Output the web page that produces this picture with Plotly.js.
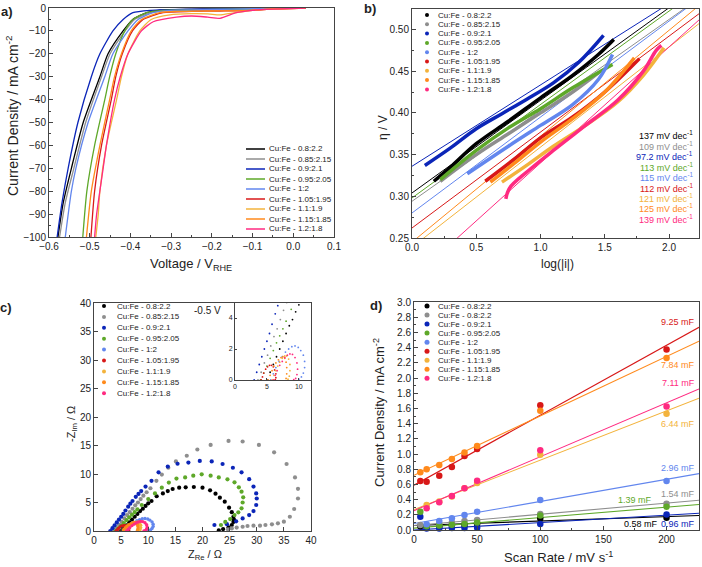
<!DOCTYPE html>
<html><head><meta charset="utf-8">
<script src="https://cdn.plot.ly/plotly-3.0.1.min.js"></script>
<style>body{margin:0;background:#fff}#plot{width:702px;height:567px}</style>
</head><body><div id="plot"></div><script>
// ---------- shared series info ----------
const names = ["Cu:Fe - 0.8:2.2","Cu:Fe - 0.85:2.15","Cu:Fe - 0.9:2.1","Cu:Fe - 0.95:2.05","Cu:Fe - 1:2","Cu:Fe - 1.05:1.95","Cu:Fe - 1.1:1.9","Cu:Fe - 1.15:1.85","Cu:Fe - 1.2:1.8"];
const namesD = ["Cu:Fe - 0.8:2.2","Cu:Fe - 0.8:2.2","Cu:Fe - 0.9:2.1","Cu:Fe - 0.95:2.05","Cu:Fe - 1:2","Cu:Fe - 1.05:1.95","Cu:Fe - 1.1:1.9","Cu:Fe - 1.15:1.85","Cu:Fe - 1.2:1.8"];
const colors = ["#000000","#8e8e8e","#0b25b8","#5ea829","#6286ee","#d81818","#f3b33c","#ff8a1c","#ff2a80"];

// ---------- panel a: LSV ----------
const lsvV = [
 [-0.578,-0.565,-0.545,-0.516,-0.475,-0.455,-0.418,-0.394,-0.36,-0.33,-0.25,-0.15,-0.05,0.03],
 [-0.574,-0.56,-0.539,-0.51,-0.471,-0.45,-0.413,-0.39,-0.35,-0.31,-0.25,-0.15,-0.05,0.03],
 [-0.58,-0.568,-0.553,-0.529,-0.496,-0.475,-0.443,-0.418,-0.394,-0.35,-0.25,-0.15,-0.05,0.03],
 [-0.517,-0.507,-0.488,-0.463,-0.451,-0.436,-0.414,-0.394,-0.36,-0.32,-0.25,-0.15,-0.05,0.03],
 [-0.56,-0.545,-0.534,-0.504,-0.463,-0.443,-0.406,-0.381,-0.344,-0.30,-0.25,-0.15,-0.05,0.03],
 [-0.497,-0.488,-0.471,-0.447,-0.436,-0.42,-0.395,-0.369,-0.32,-0.25,-0.18,-0.1,-0.05,0.03],
 [-0.485,-0.479,-0.475,-0.459,-0.434,-0.422,-0.406,-0.377,-0.349,-0.303,-0.25,-0.21,-0.18,-0.15,-0.1,-0.05,0.03],
 [-0.508,-0.496,-0.475,-0.451,-0.439,-0.422,-0.398,-0.373,-0.328,-0.287,-0.2,-0.1,-0.05,0.03],
 [-0.488,-0.483,-0.467,-0.459,-0.439,-0.425,-0.406,-0.373,-0.344,-0.287,-0.25,-0.21,-0.18,-0.14,-0.1,-0.05,0.03]
];
const lsvJ = [
 [-100,-85,-70,-50,-30,-20,-10,-5,-2,-1,-0.6,-0.3,-0.1,0],
 [-100,-85,-70,-50,-30,-20,-10,-5,-2,-1,-0.7,-0.4,-0.1,0],
 [-100,-85,-70,-50,-30,-20,-10,-5,-2,-1,-0.5,-0.3,-0.1,0],
 [-100,-80,-60,-40,-30,-20,-10,-5,-2,-1,-0.8,-0.5,-0.15,0],
 [-100,-80,-70,-50,-30,-20,-10,-5,-2,-1,-0.8,-0.5,-0.15,0],
 [-100,-80,-60,-40,-30,-20,-10,-5,-2,-1.5,-1.3,-1,-0.4,0],
 [-100,-90,-80,-60,-40,-30,-20,-10,-5,-3,-2.5,-2.6,-3,-2.2,-1,-0.4,0],
 [-100,-80,-60,-40,-30,-20,-10,-5,-2,-1.5,-1.3,-1,-0.4,0],
 [-100,-90,-70,-60,-40,-30,-20,-10,-6,-4,-3.5,-4,-4.5,-2,-1,-0.5,0]
];

// ---------- panel b: Tafel ----------
const tafelX = [
 [0.17,0.3,0.5,0.75,1.0,1.25,1.45,1.57],
 [0.22,0.5,0.75,1.0,1.25,1.45],
 [0.10,0.3,0.5,0.7,0.9,1.1,1.3,1.49],
 [0.22,0.5,0.75,1.0,1.25,1.56],
 [0.43,0.75,1.0,1.25,1.45,1.56],
 [0.57,0.8,1.0,1.25,1.5,1.77],
 [0.70,0.9,1.1,1.35,1.6,1.8,1.96],
 [0.61,0.8,1.0,1.25,1.5,1.73],
 [0.73,0.76,0.9,1.1,1.35,1.6,1.8,1.9,1.94]
];
const tafelEta = [
 [0.318,0.335,0.363,0.39,0.418,0.445,0.47,0.488],
 [0.318,0.35,0.375,0.40,0.425,0.448],
 [0.337,0.358,0.381,0.399,0.417,0.436,0.461,0.493],
 [0.32,0.355,0.382,0.405,0.43,0.458],
 [0.327,0.36,0.385,0.41,0.44,0.47],
 [0.318,0.345,0.37,0.395,0.425,0.465],
 [0.317,0.338,0.36,0.385,0.413,0.445,0.478],
 [0.317,0.34,0.365,0.393,0.425,0.466],
 [0.297,0.31,0.33,0.355,0.385,0.415,0.45,0.475,0.481]
];
const tafelFitIntercept = [0.304,0.294,0.336,0.298,0.28,0.262,0.239,0.245,0.201];
const tafelFitSlope = [0.111,0.109,0.0975,0.112,0.115,0.115,0.12,0.127,0.139];
const tafelLabels = ["137","109","97.2","113","115","112","121","125","139"];

// ---------- panel c: Nyquist ----------
const zRe = [
 [5.0,5.5,6.0,6.5,7.0,7.5,8.0,8.5,9.0,9.5,10.0,10.6,11.55,12.7,13.6,14.5,15.7,16.9,18.4,20.0,21.4,22.4,23.2,24.1,24.9,25.4,25.7,25.8,25.7,25.4,24.8,23.8,23.0],
 [3.6,4.1,4.6,5.1,5.6,6.1,6.6,7.1,7.6,8.1,8.6,9.1,9.7,10.4,11.5,12.5,13.7,15.1,17.1,19.05,21.5,24.8,27.4,30.4,33.2,35.5,37.05,37.6,37.6,36.9,36.1,35.0,33.9,32.8,31.6,30.6,29.4,28.3,27.4,26.3,25.4,24.7],
 [3.0,3.4,3.8,4.2,4.6,5.0,5.4,5.8,6.3,6.7,7.1,7.7,8.2,8.7,9.5,10.6,11.9,13.6,15.4,17.4,19.5,21.7,23.7,25.6,27.2,28.6,29.4,29.9,30.0,29.9,29.4,28.6,27.4,26.2,24.5,22.2],
 [4.0,4.5,5.0,5.5,6.0,6.5,7.0,7.5,8.0,8.8,10.0,11.24,12.5,13.8,15.2,16.8,18.3,19.85,21.5,23.0,24.6,25.9,26.7,27.2,27.5,27.4,27.2,26.6,25.9,25.1,24.2,23.4],
 [5.6,6.0,6.4,6.9,7.4,7.9,8.4,8.9,9.4,9.9,10.3,10.7,10.9,10.9,10.7,10.4,10.0],
 [4.1,4.3,4.5,4.8,5.1,5.4,5.7,6.0,6.2,6.4,6.4,6.3],
 [5.8,6.1,6.4,6.7,7.0,7.4,7.8,8.1,8.4,8.6,8.6,8.5,8.3],
 [5.2,5.5,5.8,6.1,6.4,6.8,7.2,7.5,7.8,8.0,8.1,8.1,8.0],
 [6.0,6.3,6.6,7.0,7.4,7.8,8.2,8.6,9.0,9.4,9.7,9.8,9.7,9.5,9.2]
];
const zIm = [
 [0,0.5,1.0,1.5,2.0,2.5,3.0,3.5,3.9,4.4,4.85,5.26,6.1,6.6,7.0,7.37,7.6,7.66,7.72,7.6,7.13,6.55,5.85,5.15,4.1,3.3,2.5,2.0,1.6,1.05,0.64,0.35,0.12],
 [0,0.5,1.1,1.6,2.2,2.8,3.3,3.9,4.5,5.0,5.6,6.2,6.8,7.5,8.8,9.9,11.1,12.2,13.2,14.3,15.1,15.8,15.7,15.1,13.8,11.75,9.4,7.4,5.7,3.86,2.5,1.63,1.35,1.17,1.05,0.93,0.93,0.88,0.75,0.6,0.45,0.3],
 [0,0.5,1.0,1.5,2.0,2.5,3.0,3.6,4.27,4.8,5.26,6.0,6.5,7.0,7.8,8.8,10.3,11.3,11.8,12.0,12.3,12.2,11.75,11.1,10.3,9.1,7.8,6.6,5.7,4.56,3.5,2.8,2.2,1.7,1.2,1.05],
 [0,0.45,0.9,1.4,1.9,2.4,2.85,3.3,3.8,4.56,5.6,6.6,7.6,8.5,9.2,9.4,9.7,9.94,9.7,9.4,9.07,8.54,7.66,6.9,5.9,5.0,3.98,3.28,2.8,2.1,1.6,1.05],
 [0,0.4,0.8,1.2,1.5,1.8,2.0,2.15,2.2,2.1,1.9,1.6,1.2,0.8,0.45,0.2,0.05],
 [0,0.2,0.45,0.7,0.85,0.95,0.95,0.85,0.65,0.4,0.15,0.02],
 [0,0.3,0.6,0.9,1.15,1.4,1.55,1.55,1.35,1.0,0.6,0.25,0.05],
 [0,0.3,0.6,0.9,1.1,1.3,1.45,1.5,1.4,1.15,0.8,0.4,0.1],
 [0,0.3,0.6,0.95,1.2,1.45,1.6,1.68,1.65,1.45,1.1,0.7,0.35,0.1,0.02]
];

// ---------- panel d: capacitance ----------
const scanRate = [5,10,20,30,40,50,100,200];
const cdlJ = [
 [0.05,0.04,0.045,0.06,0.065,0.08,0.15,0.16],
 [0.065,0.06,0.08,0.10,0.12,0.13,0.21,0.345],
 [0.175,0.02,0.02,0.025,0.025,0.03,0.08,0.205],
 [0.24,0.05,0.06,0.07,0.08,0.10,0.19,0.305],
 [null,0.075,0.118,0.154,0.197,0.241,0.395,0.645],
 [0.645,0.635,0.714,0.83,0.974,1.066,1.642,2.374],
 [null,0.33,0.375,0.44,0.55,0.62,0.99,1.53],
 [0.76,0.80,0.855,0.934,1.02,1.105,1.568,2.264],
 [null,0.285,0.364,0.447,0.548,0.649,1.05,1.624]
];
const cdlFitIntercept = [0.06,0.06,0.0,0.025,0.085,0.59,0.27,0.72,0.255];
const cdlFitSlope = [0.00058,0.00147,0.00098,0.00138,0.00291,0.0092,0.00649,0.00782,0.00709];
const cdlLabels = ["0.58","1.54","0.96","1.39","2.96","9.25","6.44","7.84","7.11"];

// ---------- layout helpers (pixel -> paper) ----------
const W = 702, H = 567;
const fx = p => p / W, fy = p => 1 - p / H;
const FONT = "Liberation Sans, Arial, sans-serif";

const rangeA = {x:[-0.6,0.1], y:[-100,0]};
const rangeB = {x:[0,2.233], y:[0.25,0.5245]};
const rangeC = {x:[0,40], y:[0,40]};
const rangeI = {x:[0,11.9], y:[0,4.97]};
const rangeD = {x:[0,225.7], y:[0,3.0]};

const traces = [];
for (let i = 0; i < 9; i++) {
  traces.push({x: lsvV[i], y: lsvJ[i], xaxis:'x', yaxis:'y', mode:'lines', line:{color:colors[i], width:1.3, shape:'spline', smoothing:0.6}, showlegend:false, hoverinfo:'skip'});
}
for (let i = 0; i < 9; i++) {
  const fx0 = rangeB.x[0], fx1 = rangeB.x[1];
  traces.push({x:[fx0, fx1], y:[tafelFitIntercept[i]+tafelFitSlope[i]*fx0, tafelFitIntercept[i]+tafelFitSlope[i]*fx1], xaxis:'x2', yaxis:'y2', mode:'lines', line:{color:colors[i], width:1}, showlegend:false, hoverinfo:'skip'});
}
for (let i = 0; i < 9; i++) {
  traces.push({x: tafelX[i], y: tafelEta[i], xaxis:'x2', yaxis:'y2', mode:'lines', line:{color:colors[i], width:3.5, shape:'spline'}, showlegend:false, hoverinfo:'skip'});
}
for (let i = 0; i < 9; i++) {
  traces.push({x: zRe[i], y: zIm[i], xaxis:'x3', yaxis:'y3', mode:'markers', marker:{color:colors[i], size: i < 4 ? 4.2 : 3.4}, cliponaxis:true, showlegend:false, hoverinfo:'skip'});
}
for (let i = 0; i < 9; i++) {
  traces.push({x: zRe[i], y: zIm[i], xaxis:'x4', yaxis:'y4', mode:'markers', marker:{color:colors[i], size:1.8}, cliponaxis:true, showlegend:false, hoverinfo:'skip'});
}
for (let i = 0; i < 9; i++) {
  traces.push({x:[rangeD.x[0], rangeD.x[1]], y:[cdlFitIntercept[i]+cdlFitSlope[i]*rangeD.x[0], cdlFitIntercept[i]+cdlFitSlope[i]*rangeD.x[1]], xaxis:'x5', yaxis:'y5', mode:'lines', line:{color:colors[i], width:1.1}, showlegend:false, hoverinfo:'skip'});
}
for (let i = 0; i < 9; i++) {
  traces.push({x: scanRate, y: cdlJ[i], xaxis:'x5', yaxis:'y5', mode:'markers', marker:{color:colors[i], size:6.5}, cliponaxis:false, showlegend:false, hoverinfo:'skip'});
}

function ax(dom, anchor, extra) {
  return Object.assign({domain: dom, anchor: anchor, showline:true, linecolor:'#444', linewidth:1, mirror:true,
    ticks:'inside', ticklen:4, tickcolor:'#444', showgrid:false, zeroline:false,
    tickfont:{size:10, color:'#222', family:FONT}, fixedrange:true}, extra);
}
const minorIn = (d) => ({dtick:d, ticks:'inside', ticklen:2, tickcolor:'#444', showgrid:false});

const layout = {
  width: W, height: H, margin:{l:0,r:0,t:0,b:0}, paper_bgcolor:'#fff', plot_bgcolor:'rgba(0,0,0,0)',
  font:{family:FONT, color:'#222'}, showlegend:false,
  xaxis: ax([fx(49), fx(334)], 'y', {range:rangeA.x, dtick:0.1, tick0:0, tickformat:'.1f', minor:minorIn(0.05)}),
  yaxis: ax([fy(237), fy(8)], 'x', {range:rangeA.y, dtick:10, minor:minorIn(5)}),
  xaxis2: ax([fx(412), fx(699)], 'y2', {range:rangeB.x, dtick:0.5, tickformat:'.1f', minor:minorIn(0.25)}),
  yaxis2: ax([fy(238), fy(9)], 'x2', {range:rangeB.y, dtick:0.05, tick0:0, tickformat:'.2f', minor:minorIn(0.025)}),
  xaxis3: ax([fx(94), fx(311)], 'y3', {range:rangeC.x, dtick:5, tickfont:{size:10,color:'#222',family:FONT}}),
  yaxis3: ax([fy(531), fy(303)], 'x3', {range:rangeC.y, dtick:5, tickfont:{size:10,color:'#222',family:FONT}}),
  xaxis4: ax([fx(235), fx(311)], 'y4', {range:rangeI.x, dtick:5, ticklen:2, tickfont:{size:7,color:'#222',family:FONT}}),
  yaxis4: ax([fy(380), fy(303)], 'x4', {range:rangeI.y, dtick:2, ticklen:2, tickfont:{size:7,color:'#222',family:FONT}}),
  xaxis5: ax([fx(414), fx(699)], 'y5', {range:rangeD.x, dtick:50, minor:minorIn(25)}),
  yaxis5: ax([fy(530), fy(302)], 'x5', {range:rangeD.y, dtick:0.2, tickformat:'.1f', minor:minorIn(0.1)}),
  shapes: [], annotations: []
};

const A = layout.annotations, S = layout.shapes;
function txt(x, y, text, size, o) {
  A.push(Object.assign({xref:'paper', yref:'paper', x:fx(x), y:fy(y), text:text, showarrow:false,
    xanchor:'center', yanchor:'middle', font:{size:size, color:'#222', family:FONT}}, o || {}));
}
function dot(cx, cy, r, color) {
  S.push({type:'circle', xref:'paper', yref:'paper', x0:fx(cx-r), x1:fx(cx+r), y0:fy(cy+r), y1:fy(cy-r), fillcolor:color, line:{width:0}});
}

// panel labels
txt(7, 11, '<b>a)</b>', 13);
txt(370, 8, '<b>b)</b>', 13);
txt(6, 307, '<b>c)</b>', 13);
txt(376, 305, '<b>d)</b>', 13);

// axis titles
txt(191, 265, 'Voltage / V<sub>RHE</sub>', 13);
txt(12, 116, 'Current Density / mA cm<sup>-2</sup>', 14, {textangle:-90});
txt(557, 264, 'log(|i|)', 12);
txt(383, 128, 'η / V', 12, {textangle:-90});
txt(205, 555, 'Z<sub>Re</sub> / Ω', 11);
txt(72, 424, '-Z<sub>Im</sub> / Ω', 11, {textangle:-90});
txt(558, 557, 'Scan Rate / mV s<sup>-1</sup>', 13);
txt(379, 413, 'Current Density / mA cm<sup>-2</sup>', 13, {textangle:-90});

// legend a (lines)
for (let i = 0; i < 9; i++) {
  const y = 149 + i * 10;
  S.push({type:'line', xref:'paper', yref:'paper', x0:fx(246), x1:fx(265), y0:fy(y), y1:fy(y), line:{color:colors[i], width:1.5}});
  txt(267, y, names[i], 8, {xanchor:'left'});
}
// legend b + Tafel slope labels
for (let i = 0; i < 9; i++) {
  const y = 15 + i * 9.3;
  dot(427, y, 2, colors[i]);
  txt(436, y, names[i], 8, {xanchor:'left'});
  txt(695, 135 + i * 10.5, tafelLabels[i] + ' mV dec<sup>-1</sup>', 9, {xanchor:'right', font:{size:9, color:colors[i], family:FONT}});
}
// legend c
for (let i = 0; i < 9; i++) {
  const y = 306 + i * 10.9;
  dot(104, y, 2, colors[i]);
  txt(115, y, names[i], 8, {xanchor:'left'});
}
txt(207, 310, '-0.5 V', 10);
// legend d
for (let i = 0; i < 9; i++) {
  const y = 306 + i * 9.04;
  dot(427, y, 2.5, colors[i]);
  txt(436, y, namesD[i], 8, {xanchor:'left'});
}
// capacitance labels
const cdlLabelPos = [[660,524],[697,494],[697,524],[654,500],[697,468],[697,322],[697,424],[697,365],[697,383]];
for (let i = 0; i < 9; i++) {
  txt(cdlLabelPos[i][0], cdlLabelPos[i][1], cdlLabels[i] + ' mF', 9, {xanchor:'right', font:{size:9, color:colors[i], family:FONT}});
}

Plotly.newPlot('plot', traces, layout, {staticPlot:true, displayModeBar:false});
</script></body></html>
